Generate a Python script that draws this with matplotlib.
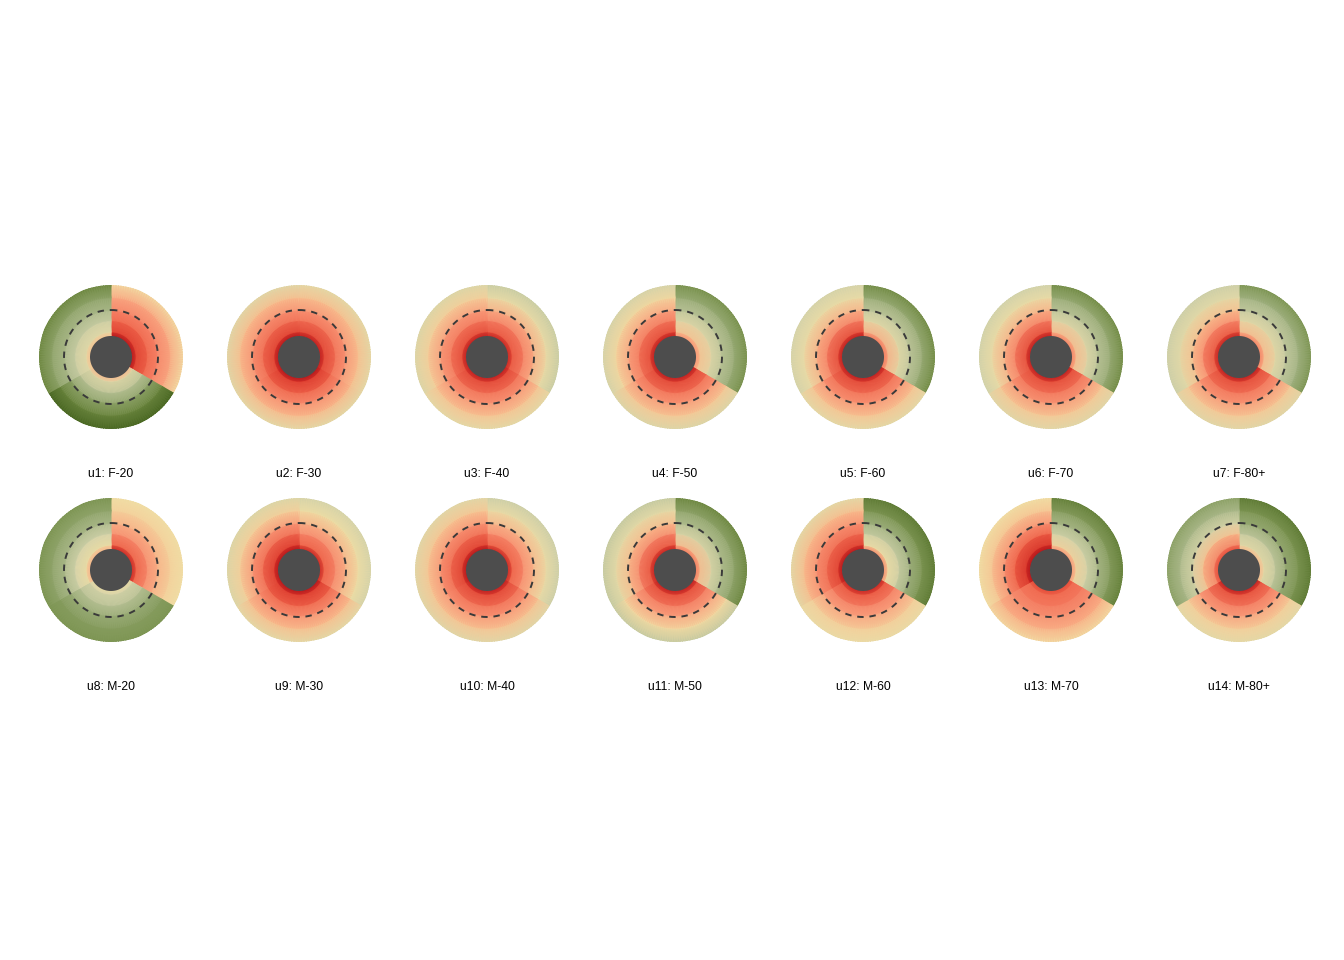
import numpy as np
import matplotlib
matplotlib.use('Agg')
import matplotlib.pyplot as plt
from matplotlib.colors import LinearSegmentedColormap

# panel labels
labels = ['u1: F-20', 'u2: F-30', 'u3: F-40', 'u4: F-50', 'u5: F-60', 'u6: F-70', 'u7: F-80+',
          'u8: M-20', 'u9: M-30', 'u10: M-40', 'u11: M-50', 'u12: M-60', 'u13: M-70', 'u14: M-80+']

# radial anchor positions (0 = inner edge, 1 = outer edge)
ring_pos = [0.0, 0.08, 0.3, 0.5, 0.75, 1.0]

# values per sector, inner -> outer ; s1 = top-right, s2 = bottom, s3 = top-left
s1 = [
    [-1.0, -0.75, -0.55, -0.4, -0.22, -0.02],
    [-0.95, -0.72, -0.5, -0.32, -0.12, 0.1],
    [-0.9, -0.65, -0.42, -0.2, 0.05, 0.28],
    [-0.35, -0.12, 0.12, 0.35, 0.55, 0.72],
    [-0.5, -0.2, 0.1, 0.32, 0.55, 0.75],
    [-0.45, -0.15, 0.12, 0.35, 0.55, 0.75],
    [-0.45, -0.15, 0.1, 0.3, 0.5, 0.7],
    [-0.9, -0.6, -0.35, -0.18, -0.05, 0.0],
    [-0.9, -0.6, -0.38, -0.18, 0.02, 0.2],
    [-0.9, -0.6, -0.36, -0.16, 0.05, 0.25],
    [-0.5, -0.15, 0.15, 0.4, 0.6, 0.78],
    [-0.45, 0.0, 0.28, 0.5, 0.7, 0.85],
    [-0.35, -0.05, 0.22, 0.45, 0.65, 0.82],
    [-0.15, 0.08, 0.32, 0.55, 0.7, 0.85],
]
s2 = [
    [-0.15, 0.12, 0.38, 0.6, 0.8, 0.95],
    [-1.0, -0.78, -0.55, -0.36, -0.14, 0.1],
    [-0.95, -0.72, -0.5, -0.32, -0.1, 0.1],
    [-0.95, -0.72, -0.5, -0.3, -0.08, 0.15],
    [-0.95, -0.72, -0.5, -0.32, -0.1, 0.1],
    [-0.95, -0.7, -0.48, -0.3, -0.08, 0.12],
    [-0.95, -0.7, -0.48, -0.3, -0.08, 0.12],
    [0.05, 0.2, 0.38, 0.55, 0.65, 0.7],
    [-1.0, -0.78, -0.55, -0.34, -0.12, 0.1],
    [-0.95, -0.72, -0.5, -0.32, -0.1, 0.12],
    [-0.95, -0.7, -0.45, -0.25, -0.02, 0.3],
    [-0.9, -0.65, -0.42, -0.25, -0.06, 0.05],
    [-0.7, -0.55, -0.45, -0.35, -0.18, -0.02],
    [-0.95, -0.68, -0.45, -0.26, -0.06, 0.1],
]
s3 = [
    [-0.12, 0.08, 0.28, 0.45, 0.6, 0.78],
    [-1.0, -0.75, -0.52, -0.34, -0.13, 0.12],
    [-0.95, -0.7, -0.46, -0.28, -0.06, 0.15],
    [-0.95, -0.7, -0.46, -0.25, -0.03, 0.2],
    [-0.95, -0.7, -0.42, -0.18, 0.05, 0.2],
    [-0.95, -0.7, -0.42, -0.18, 0.05, 0.22],
    [-0.92, -0.65, -0.36, -0.12, 0.1, 0.25],
    [-0.2, 0.02, 0.22, 0.45, 0.6, 0.7],
    [-1.0, -0.78, -0.52, -0.3, -0.06, 0.15],
    [-1.0, -0.75, -0.52, -0.32, -0.09, 0.12],
    [-0.92, -0.66, -0.38, -0.14, 0.08, 0.3],
    [-1.0, -0.75, -0.52, -0.34, -0.13, 0.1],
    [-1.0, -0.82, -0.58, -0.34, -0.1, 0.0],
    [-0.7, -0.45, -0.12, 0.18, 0.45, 0.62],
]

cmap = LinearSegmentedColormap.from_list('rdgn', [
    (0.0, '#b0131a'),
    (0.1, '#da3429'),
    (0.2, '#ee5f46'),
    (0.3, '#f6866a'),
    (0.38, '#f9a480'),
    (0.44, '#f7c090'),
    (0.5, '#f1dea5'),
    (0.62, '#cfd1aa'),
    (0.75, '#a4b484'),
    (0.88, '#728c45'),
    (1.0, '#3f5e1a'),
])

W, H = 1344, 960
fig = plt.figure(figsize=(W / 100, H / 100), dpi=100)

R = 72        # outer radius, px
r0 = 21 / 72  # hole radius
r_dash = 47 / 72
col_x = [111 + 188 * i for i in range(7)]
row_y = [357, 570]

full = np.linspace(0, 2 * np.pi, 361)
sectors = [(0, 2 * np.pi / 3), (2 * np.pi / 3, 4 * np.pi / 3), (4 * np.pi / 3, 2 * np.pi)]

for k, lab in enumerate(labels):
    cx = col_x[k % 7]
    cy = row_y[k // 7]
    ax = fig.add_axes([(cx - R) / W, (H - cy - R) / H, 2 * R / W, 2 * R / H], projection='polar')
    ax.set_theta_zero_location('N')
    ax.set_theta_direction(-1)
    ax.set_ylim(0, 1)
    ax.axis('off')

    for (t0, t1), vals in zip(sectors, [s1[k], s2[k], s3[k]]):
        th = np.linspace(t0, t1, 61)
        rr = r0 + (1 - r0) * np.array(ring_pos)
        T, RR = np.meshgrid(th, rr)
        C = np.repeat(np.array(vals)[:, None], len(th), axis=1)
        ax.pcolormesh(T, RR, C, shading='gouraud', cmap=cmap, vmin=-1, vmax=1)

    ax.fill(full, np.full_like(full, r0), color='#4d4d4d', lw=0, zorder=3)
    ax.plot(full, np.full_like(full, r_dash), color='#3a3a3a', lw=1.4,
            ls=(0, (3.3, 3)), zorder=4)

    fig.text(cx / W, (H - cy - 117) / H, lab, ha='center', va='center',
             fontsize=8.7, family='Liberation Sans')

fig.savefig('out.png', dpi=100)
